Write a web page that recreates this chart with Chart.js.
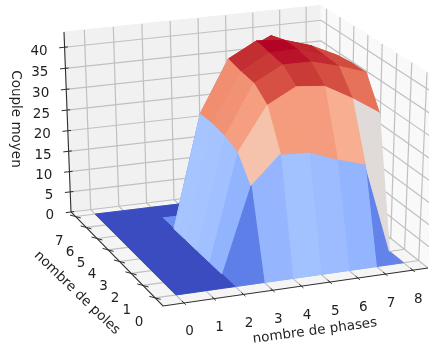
<!DOCTYPE html>
<html>
<head>
<meta charset="utf-8">
<script src="https://cdn.jsdelivr.net/npm/chart.js@4"></script>
<style>
html,body{margin:0;padding:0;background:#fff;overflow:hidden}
canvas{display:block;filter:blur(0.45px)}
</style>
</head>
<body>
<canvas id="c" width="429" height="346"></canvas>
<script>
const phases = [0,1,2,3,4,5,6,7,8];
const poles = [0,1,2,3,4,5,6,7];
const zTicks = [0,5,10,15,20,25,30,35,40];
const poles0 = [0,0,0,0,0,0,0,0,0];
const poles1 = [0,0,0,19.7,26.1,25.8,23.4,21.5,0];
const poles2 = [0,0,0,25,34.9,38.4,37.8,34.3,30.2];
const poles3 = [0,0,0,26.4,37.7,41.2,41.2,39.5,37.4];
const poles4 = [0,0,0,27,38.2,41.8,42,39.8,37.4];
const poles5 = [0,0,0,27,39,42.5,42,40,37];
const poles6 = [0,0,0,0,0,38,41,37,0];
const poles7 = [0,0,0,0,0,0,0,0,0];
const couple = [poles0,poles1,poles2,poles3,poles4,poles5,poles6,poles7];
const zMax = 43.6;

const coolwarm = [[59,76,192],[68,90,204],[77,104,215],[87,117,225],[98,130,234],[108,142,241],[119,154,247],[130,165,251],[141,176,254],[152,185,255],[163,194,255],[174,201,253],[184,208,249],[194,213,244],[204,217,238],[213,219,230],[221,221,221],[229,216,209],[236,211,197],[241,204,185],[245,196,173],[247,187,160],[247,177,148],[247,166,135],[244,154,123],[241,141,111],[236,127,99],[229,112,88],[222,96,77],[213,80,66],[203,62,56],[192,40,47],[180,4,38]];
function cmap(t){
  t=Math.max(0,Math.min(1,t))*(coolwarm.length-1);
  const i=Math.min(coolwarm.length-2,Math.floor(t)),f=t-i;
  const c=[0,1,2].map(k=>Math.round(coolwarm[i][k]*(1-f)+coolwarm[i+1][k]*f));
  return `rgb(${c[0]},${c[1]},${c[2]})`;
}

// box coordinates (0..1 on each axis) to page position
function boxPt(u,v,w){
  const d=1+.0643*u+.0902*v-.0323*w;
  return {
    x:(292.5*u-85.6*v-9.7*w+163)/d + 5*w*u*(1-v),
    y:(-20.8*u-74.9*v-201*w+306)/d + w*(3.5*(1-u)*v-3*u),
    d
  };
}
const uOf=x=>.075+.108*x, vOf=y=>.08+.124*y, wOf=z=>z/zMax;
const pt=(x,y,z)=>boxPt(uOf(x),vOf(y),wOf(z));

const datasets=[];
function poly(points,color){
  const pts=points.concat([points[0]]);
  datasets.push({data:pts.map(p=>({x:p.x,y:p.y})),showLine:true,fill:'shape',backgroundColor:color,borderColor:color,borderWidth:1,pointRadius:0,tension:0,clip:false});
}
function line(points,color,width){
  datasets.push({data:points.map(p=>({x:p.x,y:p.y})),showLine:true,fill:false,borderColor:color,borderWidth:width,pointRadius:0,tension:0,clip:false});
}
// panes
poly([boxPt(0,1,0),boxPt(1,1,0),boxPt(1,1,1),boxPt(0,1,1)],'#f1f1f1');
poly([boxPt(1,0,0),boxPt(1,1,0),boxPt(1,1,1),boxPt(1,0,1)],'#f9f9f9');
poly([boxPt(0,0,0),boxPt(1,0,0),boxPt(1,1,0),boxPt(0,1,0)],'#f5f5f5');
// grid
const gridColor='#c0c0c0';
phases.forEach(x=>{const u=uOf(x);line([boxPt(u,0,0),boxPt(u,1,0),boxPt(u,1,1)],gridColor,1.2);});
poles.forEach(y=>{const v=vOf(y);line([boxPt(0,v,0),boxPt(1,v,0),boxPt(1,v,1)],gridColor,1.2);});
zTicks.forEach(z=>{const w=wOf(z);line([boxPt(0,1,w),boxPt(1,1,w),boxPt(1,0,w)],gridColor,1.2);});
// surface cells, far to near
const cells=[];
for(let j=0;j<poles.length-1;j++)for(let i=0;i<phases.length-1;i++){
  const zs=[couple[j][i],couple[j][i+1],couple[j+1][i+1],couple[j+1][i]];
  const ps=[pt(phases[i],poles[j],zs[0]),pt(phases[i+1],poles[j],zs[1]),pt(phases[i+1],poles[j+1],zs[2]),pt(phases[i],poles[j+1],zs[3])];
  cells.push({ps,avg:(zs[0]+zs[1]+zs[2]+zs[3])/4,depth:(ps[0].d+ps[1].d+ps[2].d+ps[3].d)/4});
}
const maxAvg=Math.max(...cells.map(c=>c.avg));
cells.sort((a,b)=>b.depth-a.depth).forEach(c=>poly(c.ps,cmap(c.avg/maxAvg)));
// axes
const axisColor='#2e2e2e';
line([boxPt(0,1,0),boxPt(0,0,0),boxPt(1,0,0)],axisColor,1.1);
line([boxPt(0,1,0),boxPt(0,1,1)],axisColor,1.1);
phases.forEach(x=>{const u=uOf(x);line([boxPt(u,.02,0),boxPt(u,-.018,0)],axisColor,1);});
poles.forEach(y=>{const v=vOf(y);line([boxPt(-.02,v,.012),boxPt(.02,v,-.012)],axisColor,1);});
zTicks.forEach(z=>{const w=wOf(z);line([boxPt(-.02,1,w),boxPt(.012,1,w)],axisColor,1);});
datasets.forEach((d,i)=>{d.order=-i;});

const textPlugin={id:'texts',afterDraw(chart){
  const ctx=chart.ctx,sx=chart.scales.x,sy=chart.scales.y;
  const px=p=>({x:sx.getPixelForValue(p.x),y:sy.getPixelForValue(p.y)});
  ctx.save();
  ctx.fillStyle='#1f1f1f';
  ctx.font='13.5px "DejaVu Sans"';
  ctx.textBaseline='middle';
  ctx.textAlign='center';
  phases.forEach(x=>{const p=px(boxPt(uOf(x),0,0));ctx.fillText(String(x),p.x+5.5,p.y+29);});
  poles.forEach(y=>{const p=px(boxPt(0,vOf(y),0));ctx.fillText(String(y),p.x-16,p.y+25);});
  ctx.textAlign='right';
  zTicks.forEach(z=>{const p=px(boxPt(0,1,wOf(z)));ctx.fillText(String(z),p.x-17,p.y+4);});
  ctx.textAlign='center';
  const rot=(t,x,y,a)=>{ctx.save();ctx.translate(x,y);ctx.rotate(a*Math.PI/180);ctx.fillText(t,0,0);ctx.restore();};
  rot('Couple moyen',15,119,90);
  rot('nombre de poles',77,293,44);
  rot('nombre de phases',315,331,-7.6);
  ctx.restore();
}};

new Chart(document.getElementById('c'),{
  type:'scatter',
  data:{datasets},
  options:{
    responsive:false,animation:false,
    layout:{padding:0},
    events:[],
    scales:{
      x:{type:'linear',min:0,max:429,display:false},
      y:{type:'linear',min:0,max:346,reverse:true,display:false}
    },
    plugins:{legend:{display:false},tooltip:{enabled:false},title:{display:false}}
  },
  plugins:[textPlugin]
});
</script>
</body>
</html>
